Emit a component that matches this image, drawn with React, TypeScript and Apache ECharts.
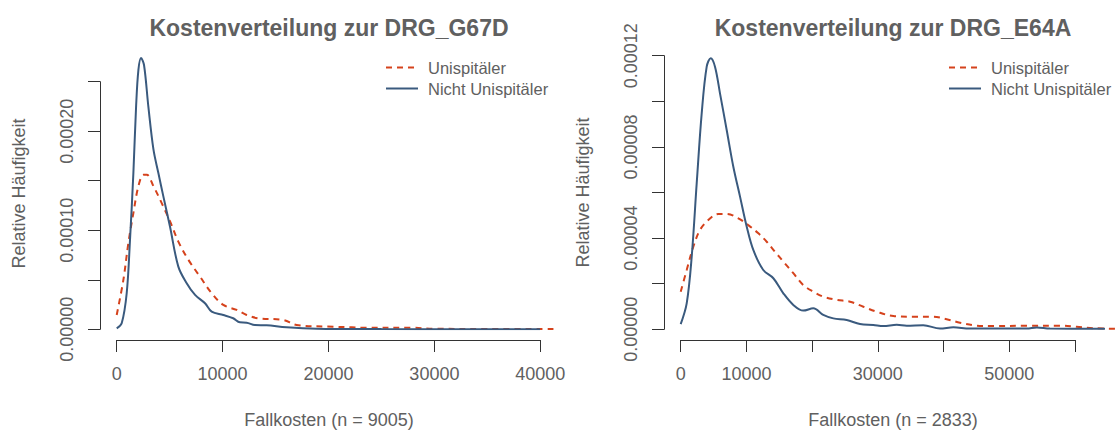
import React, { useEffect, useRef } from "react";
import * as echarts from "echarts";

// ---------- data ----------
const leftTitle = "Kostenverteilung zur DRG_G67D";
const rightTitle = "Kostenverteilung zur DRG_E64A";
const leftXName = "Fallkosten (n = 9005)";
const rightXName = "Fallkosten (n = 2833)";
const yName = "Relative Häufigkeit";
const seriesNames = ["Unispitäler", "Nicht Unispitäler"];

// DRG_G67D, Unispitäler (red dashed)
const g67dUni: [number, number][] = [
  [0, 0.0000144], [630, 0.0000497], [1100, 0.0000867], [1574, 0.000117], [2050, 0.000144],
  [2520, 0.0001555], [2840, 0.0001555], [3470, 0.000144], [4250, 0.000127], [5040, 0.0001085],
  [5820, 0.0000883], [6770, 0.0000699], [7870, 0.000053], [8970, 0.0000363], [10070, 0.0000245],
  [11330, 0.0000195], [12270, 0.0000144], [13370, 0.0000111], [15730, 0.0000094], [16990, 0.0000043],
  [20450, 0.0000026], [22200, 0.000002], [23300, 0.0000015], [28000, 0.0000015], [30000, 0.0000005],
  [35000, 0.0000004], [41670, 0.0000004],
];
// DRG_G67D, Nicht Unispitäler (blue solid)
const g67dNonUni: [number, number][] = [
  [0, 0.000001], [472, 0.000006], [944, 0.0000363], [1256, 0.00009], [1574, 0.000157],
  [1830, 0.000224], [2050, 0.000261], [2300, 0.000273], [2580, 0.000266], [2990, 0.000224],
  [3470, 0.000181], [3940, 0.000157], [4400, 0.000134], [5040, 0.000103], [5820, 0.0000631],
  [6610, 0.0000464], [7400, 0.0000346], [8340, 0.0000262], [8970, 0.0000177], [10070, 0.0000144],
  [11000, 0.0000111], [11630, 0.000007], [12270, 0.0000067], [13050, 0.0000043], [14160, 0.000004],
  [16040, 0.000002], [18880, 0.0000006], [25000, 0.0000002], [32000, 0.0000001], [39970, 0.0000001],
];
// DRG_E64A, Unispitäler (red dashed)
const e64aUni: [number, number][] = [
  [0, 0.0000165], [913, 0.000026], [1920, 0.0000362], [2940, 0.0000436], [4200, 0.0000479],
  [5720, 0.0000506], [7000, 0.0000506], [8770, 0.0000487], [10290, 0.0000457], [11820, 0.0000421],
  [13090, 0.0000384], [14350, 0.000034], [15620, 0.0000297], [17140, 0.0000246], [18660, 0.0000194],
  [20180, 0.0000165], [21700, 0.0000143], [23740, 0.0000129], [25770, 0.0000121], [27800, 0.0000099],
  [29830, 0.0000077], [32360, 0.0000058], [35400, 0.0000055], [38450, 0.0000055], [40480, 0.0000044],
  [42510, 0.0000029], [45050, 0.0000016], [47590, 0.0000014], [52670, 0.0000016], [57730, 0.0000016],
  [60270, 0.0000011], [62800, 0.0000005], [66610, 0.0000002],
];
// DRG_E64A, Nicht Unispitäler (blue solid)
const e64aNonUni: [number, number][] = [
  [0, 0.0000023], [913, 0.0000114], [1674, 0.0000318], [2435, 0.000064], [3196, 0.0000947],
  [3957, 0.0001152], [4566, 0.0001189], [5220, 0.0001152], [5980, 0.0001035], [7000, 0.0000874],
  [8010, 0.0000713], [9030, 0.0000582], [10050, 0.000045], [11050, 0.0000348], [12570, 0.000026],
  [14100, 0.0000224], [15620, 0.0000158], [17140, 0.0000107], [18660, 0.0000082], [20180, 0.0000092],
  [21700, 0.0000063], [23230, 0.0000048], [25270, 0.0000041], [27290, 0.0000023], [29320, 0.0000019],
  [30840, 0.0000014], [32880, 0.000002], [34400, 0.0000016], [36920, 0.0000018], [39470, 0.0000003],
  [41500, 0.0000009], [44000, 0.0000003], [52670, 0.0000003], [54200, 0.0000008], [56200, 0.0000003],
  [64580, 0.0000002],
];

const leftXTicks = [0, 10000, 20000, 30000, 40000];
const rightXTicksShown = [0, 10000, 30000, 50000];

// ---------- styling ----------
const FONT = "'Liberation Sans', Arial, Helvetica, sans-serif";
const TEXT = "#606060";
const AXIS = "#333333";
const RED = "#D5421C";
const BLUE = "#3A5A7E";

export default function App() {
  const ref = useRef<HTMLDivElement>(null);

  useEffect(() => {
    if (!ref.current) return;
    const chart = echarts.init(ref.current, undefined, { renderer: "svg" });

    const tickAxisCommon = {
      show: true,
      axisLine: { show: true, onZero: false, lineStyle: { color: AXIS, width: 1 } },
      axisTick: { show: true, length: 12, lineStyle: { color: AXIS, width: 1 } },
      splitLine: { show: false },
    };
    const hiddenAxisCommon = {
      show: false,
      axisLine: { show: false, onZero: false },
      axisTick: { show: false },
      axisLabel: { show: false },
      splitLine: { show: false },
    };

    const lineSeries = (name: string, data: [number, number][], axisIdx: number, dashed: boolean) => ({
      type: "line",
      name,
      data,
      xAxisIndex: axisIdx,
      yAxisIndex: axisIdx,
      showSymbol: false,
      symbol: "none",
      smooth: 0.35,
      lineStyle: {
        color: dashed ? RED : BLUE,
        width: 2,
        type: dashed ? [6, 5] : "solid",
      },
      itemStyle: { color: dashed ? RED : BLUE },
      emphasis: { disabled: true },
    });

    const legendCommon = {
      orient: "vertical",
      top: 54,
      itemWidth: 32,
      itemHeight: 14,
      itemGap: 4,
      selectedMode: false,
      data: seriesNames,
      itemStyle: { opacity: 0, color: "rgba(0,0,0,0)", borderWidth: 0 },
      textStyle: { color: TEXT, fontSize: 16.5, fontFamily: FONT, padding: [0, 0, 0, 5] },
    };

    const yLabel = {
      color: TEXT,
      fontSize: 18,
      fontFamily: FONT,
      margin: 24,
      rotate: 90,
      showMinLabel: true,
      showMaxLabel: true,
      formatter: (v: number, i: number) => (i % 2 === 0 ? v.toFixed(5) : ""),
    };

    const txt = (text: string, x: number, y: number, size: number, bold: boolean, rot = 0) => ({
      type: "text",
      x,
      y,
      rotation: rot,
      silent: true,
      style: {
        text,
        align: "center",
        verticalAlign: "middle",
        fill: TEXT,
        fontSize: size,
        fontWeight: bold ? "bold" : "normal",
        fontFamily: FONT,
      },
    });

    chart.setOption({
      animation: false,
      backgroundColor: "#ffffff",
      textStyle: { fontFamily: FONT },
      graphic: [
        txt(leftTitle, 329, 27.5, 23, true),
        txt(rightTitle, 893, 27.5, 23, true),
        txt(leftXName, 329, 420, 18, false),
        txt(rightXName, 893, 420, 18, false),
        txt(yName, 19, 193.5, 18, false, Math.PI / 2),
        txt(yName, 583, 192.5, 18, false, Math.PI / 2),
      ],
      legend: [
        { ...legendCommon, left: 380 },
        { ...legendCommon, left: 943 },
      ],
      grid: [
        // left: data region (from value 0 upward / rightward)
        { left: 116.7, top: 48.3, width: 441.3, height: 281 },
        // left: axes region (tick span)
        { left: 116.7, top: 81.7, width: 423.6, height: 247.6 },
        // right: data region
        { left: 680.7, top: 48.2, width: 438.3, height: 281.1 },
        // right: axes region (tick span)
        { left: 680.7, top: 55.7, width: 394.3, height: 273.6 },
      ],
      xAxis: [
        { ...hiddenAxisCommon, type: "value", gridIndex: 0, min: 0, max: 41672 },
        {
          ...tickAxisCommon,
          type: "value",
          gridIndex: 1,
          min: 0,
          max: 40000,
          interval: 10000,
          offset: 10.7,
          axisLabel: {
            color: TEXT,
            fontSize: 18,
            fontFamily: FONT,
            margin: 25,
            showMinLabel: true,
            showMaxLabel: true,
            formatter: (v: number) => (leftXTicks.includes(Math.round(v)) ? String(Math.round(v)) : ""),
          },
        },
        { ...hiddenAxisCommon, type: "value", gridIndex: 2, min: 0, max: 66712 },
        {
          ...tickAxisCommon,
          type: "value",
          gridIndex: 3,
          min: 0,
          max: 60000,
          interval: 10000,
          offset: 10.7,
          axisLabel: {
            color: TEXT,
            fontSize: 18,
            fontFamily: FONT,
            margin: 25,
            showMinLabel: true,
            showMaxLabel: true,
            formatter: (v: number) => (rightXTicksShown.includes(Math.round(v)) ? String(Math.round(v)) : ""),
          },
        },
      ],
      yAxis: [
        { ...hiddenAxisCommon, type: "value", gridIndex: 0, min: 0, max: 0.0002828 },
        {
          ...tickAxisCommon,
          type: "value",
          gridIndex: 1,
          min: 0,
          max: 0.00025,
          interval: 0.00005,
          offset: 16.7,
          axisLabel: yLabel,
        },
        { ...hiddenAxisCommon, type: "value", gridIndex: 2, min: 0, max: 0.0001233 },
        {
          ...tickAxisCommon,
          type: "value",
          gridIndex: 3,
          min: 0,
          max: 0.00012,
          interval: 0.00002,
          offset: 16.7,
          axisLabel: yLabel,
        },
      ],
      series: [
        lineSeries(seriesNames[0], g67dUni, 0, true),
        lineSeries(seriesNames[1], g67dNonUni, 0, false),
        lineSeries(seriesNames[0], e64aUni, 2, true),
        lineSeries(seriesNames[1], e64aNonUni, 2, false),
      ],
    });

    return () => chart.dispose();
  }, []);

  return (
    <div
      ref={ref}
      style={{ position: "fixed", left: 0, top: 0, width: 1119, height: 430 }}
    />
  );
}
